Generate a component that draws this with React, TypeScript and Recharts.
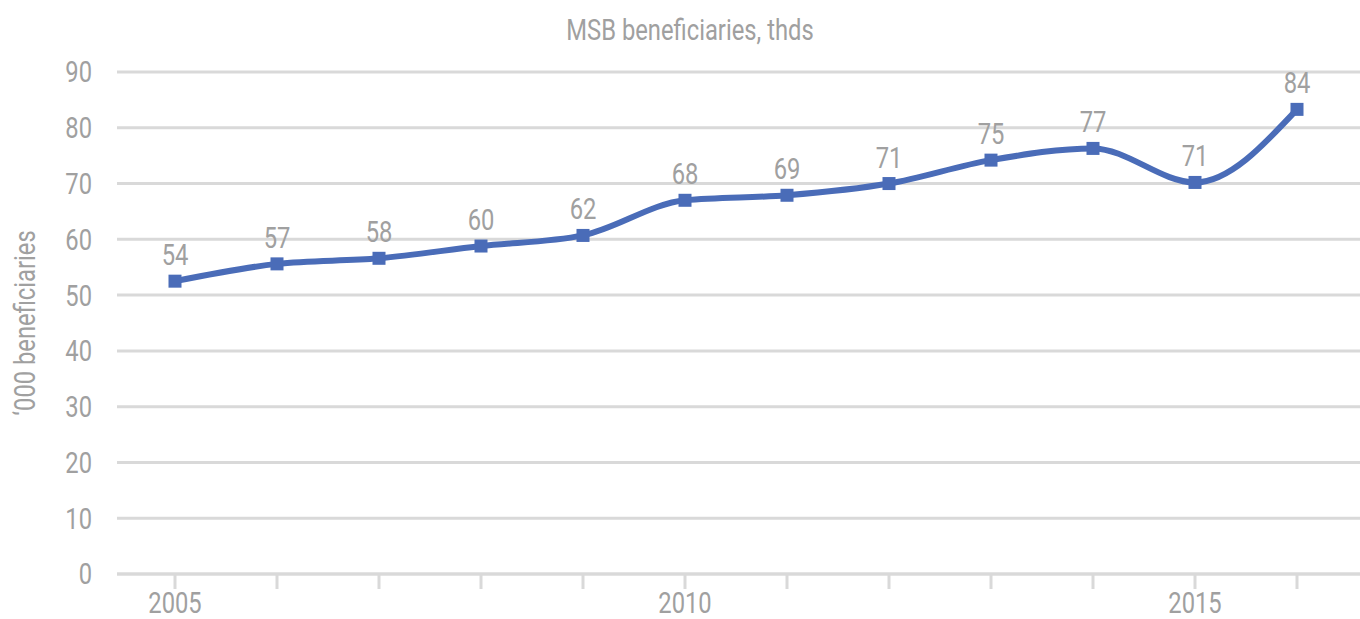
import { LineChart, Line, XAxis, YAxis, CartesianGrid, LabelList } from 'recharts';

const years = ['2005', '2006', '2007', '2008', '2009', '2010', '2011', '2012', '2013', '2014', '2015', '2016'];
const beneficiaries = [52.5, 55.6, 56.6, 58.8, 60.7, 67.0, 67.9, 70.0, 74.2, 76.3, 70.2, 83.3];
const pointLabels = ['54', '57', '58', '60', '62', '68', '69', '71', '75', '77', '71', '84'];
const shownYears = ['2005', '2010', '2015'];
const yTicks = [0, 10, 20, 30, 40, 50, 60, 70, 80, 90];

const data = years.map((year, i) => ({ year, value: beneficiaries[i] }));

// no narrow font installed, so Roboto squeezed horizontally stands in for it
const FONT = 'Roboto, "DejaVu Sans Condensed", sans-serif';
const SQUEEZE = 0.82;
const GREY_TEXT = '#a0a0a0';
const GRID = '#d9d9d9';
const BLUE = '#4a6cb8';

const NarrowText = ({ x, y, anchor, size, dy, rotate, children }: any) => (
  <g transform={`translate(${x},${y})${rotate ? ` rotate(${rotate})` : ''}`}>
    <text
      transform={`scale(${SQUEEZE},1)`}
      textAnchor={anchor}
      dy={dy}
      fill={GREY_TEXT}
      fontSize={size}
      fontFamily={FONT}
    >
      {children}
    </text>
  </g>
);

const XTick = (props: any) => {
  const { x, y, payload } = props;
  if (!shownYears.includes(payload.value)) return null;
  return (
    <NarrowText x={x} y={y - 2} anchor="middle" size={29} dy="0.75em">
      {payload.value}
    </NarrowText>
  );
};

const YTick = (props: any) => {
  const { x, y, payload } = props;
  return (
    <NarrowText x={x} y={y} anchor="end" size={29} dy="0.36em">
      {payload.value}
    </NarrowText>
  );
};

const SquareDot = (props: any) => {
  const { cx, cy } = props;
  if (cx == null || cy == null) return null;
  return <rect x={cx - 6.5} y={cy - 6.5} width={13} height={13} fill={BLUE} />;
};

export default function App() {
  return (
    <div style={{ position: 'absolute', left: 0, top: 0, width: 1360, height: 619 }}>
      <LineChart width={1360} height={619} data={data} margin={{ top: 72, right: 0, bottom: 0, left: 0 }}>
        <CartesianGrid vertical={false} stroke={GRID} strokeWidth={3} />
        <XAxis
          dataKey="year"
          interval={0}
          padding={{ left: 58, right: 63 }}
          height={45}
          axisLine={{ stroke: GRID, strokeWidth: 3 }}
          tickLine={{ stroke: GRID, strokeWidth: 3 }}
          tickSize={15}
          tickMargin={4}
          tick={<XTick />}
        />
        <YAxis
          domain={[0, 90]}
          ticks={yTicks}
          width={117}
          axisLine={false}
          tickLine={false}
          tickSize={0}
          tickMargin={25}
          tick={<YTick />}
          label={{
            content: (props: any) => {
              const vb = props.viewBox || {};
              const cy = (vb.y ?? 72) + (vb.height ?? 502) / 2;
              return (
                <NarrowText x={35} y={cy} rotate={-90} anchor="middle" size={29}>
                  ‘000 beneficiaries
                </NarrowText>
              );
            },
          }}
        />
        <Line
          type="monotone"
          dataKey="value"
          stroke={BLUE}
          strokeWidth={6}
          dot={<SquareDot />}
          activeDot={false}
          isAnimationActive={false}
        >
          <LabelList
            dataKey="value"
            content={(props: any) => {
              const { x, y, index } = props;
              return (
                <NarrowText x={x} y={y - 16} anchor="middle" size={29}>
                  {pointLabels[index]}
                </NarrowText>
              );
            }}
          />
        </Line>
        <NarrowText x={690} y={40} anchor="middle" size={29}>
          MSB beneficiaries, thds
        </NarrowText>
      </LineChart>
    </div>
  );
}
